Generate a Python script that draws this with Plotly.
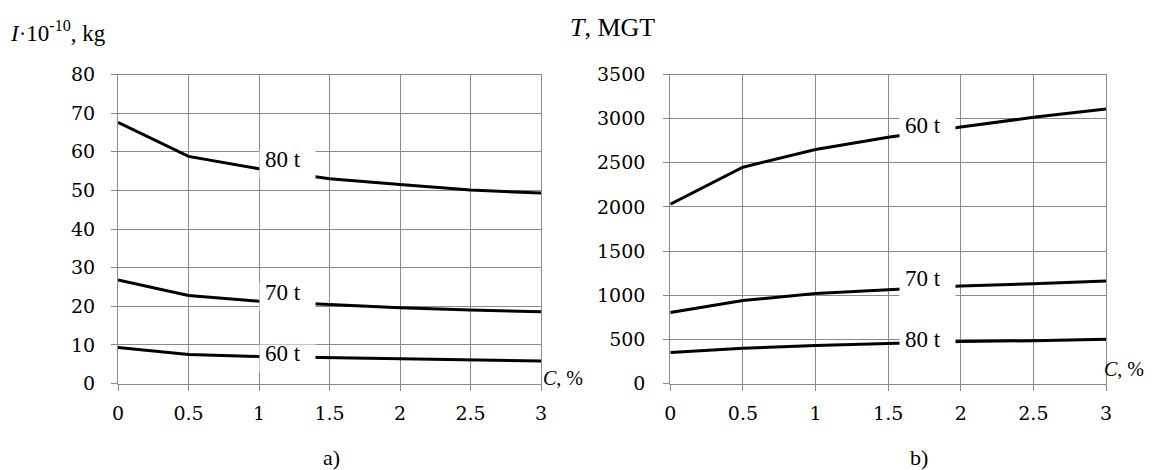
import plotly.graph_objects as go

# ---- data ----
C = [0, 0.5, 1, 1.5, 2, 2.5, 3]

# panel a) I*10^-10, kg
I_80t = [67.6, 58.8, 55.6, 53.0, 51.5, 50.1, 49.3]
I_70t = [26.8, 22.8, 21.3, 20.4, 19.6, 19.0, 18.6]
I_60t = [9.3, 7.5, 7.0, 6.7, 6.3, 6.0, 5.8]

# panel b) T, MGT
T_60t = [2030, 2450, 2650, 2790, 2905, 3015, 3110]
T_70t = [805, 940, 1020, 1060, 1105, 1130, 1160]
T_80t = [350, 400, 430, 450, 475, 485, 500]

x_ticks = [0, 0.5, 1, 1.5, 2, 2.5, 3]
x_ticktext = ["0", "0.5", "1", "1.5", "2", "2.5", "3"]
ya_ticks = [0, 10, 20, 30, 40, 50, 60, 70, 80]
yb_ticks = [0, 500, 1000, 1500, 2000, 2500, 3000, 3500]

# curve labels: (text, left edge x, text centre y)
labels_a = [("80 t", 1.0, 57.9), ("70 t", 1.0, 23.6), ("60 t", 1.0, 7.7)]
labels_b = [("60 t", 1.575, 2928), ("70 t", 1.575, 1184), ("80 t", 1.575, 504)]

SERIF = "Liberation Serif"
TICKFONT = "DejaVu Serif"
GRID = "#8a8a8a"

W, H = 1156, 470


def px(x):
    return x / W


def py(y):
    return 1 - y / H


fig = go.Figure()
for ys in (I_80t, I_70t, I_60t):
    fig.add_trace(go.Scatter(x=C, y=ys, mode="lines", line=dict(color="black", width=3),
                             xaxis="x", yaxis="y", showlegend=False, hoverinfo="skip"))
for ys in (T_60t, T_70t, T_80t):
    fig.add_trace(go.Scatter(x=C, y=ys, mode="lines", line=dict(color="black", width=3),
                             xaxis="x2", yaxis="y2", showlegend=False, hoverinfo="skip"))

axis_common = dict(showgrid=True, gridcolor=GRID, gridwidth=1.2, showline=True, linecolor=GRID,
                   linewidth=1.2, mirror=True, ticks="outside", ticklen=6, tickcolor=GRID,
                   tickwidth=1.2, zeroline=False, automargin=False,
                   tickfont=dict(family=TICKFONT, size=19, color="black"))

fig.update_layout(
    template="none",
    width=W, height=H,
    margin=dict(l=0, r=0, t=0, b=0, pad=0, autoexpand=False),
    showlegend=False,
    paper_bgcolor="white", plot_bgcolor="white",
    font=dict(family=SERIF, color="black"),
    xaxis=dict(domain=[px(118), px(541)], range=[0, 3], tickvals=x_ticks, ticktext=x_ticktext,
               anchor="y", ticklabelstandoff=7, **axis_common),
    yaxis=dict(domain=[py(383.5), py(74.5)], range=[0, 80], tickvals=ya_ticks, anchor="x",
               ticklabelstandoff=12, **axis_common),
    xaxis2=dict(domain=[px(670.3), px(1106)], range=[0, 3], tickvals=x_ticks, ticktext=x_ticktext,
                anchor="y2", ticklabelstandoff=7, **axis_common),
    yaxis2=dict(domain=[py(383.5), py(74.5)], range=[0, 3500], tickvals=yb_ticks, anchor="x2",
                ticklabelstandoff=14, **axis_common),
)


def add_label(text, x, y, xref, yref):
    # white box that interrupts the curve and grid behind the label
    fig.add_annotation(text="\u00a0", x=x, y=y, xref=xref, yref=yref, xanchor="left",
                       yanchor="middle", yshift=-4.5, showarrow=False, width=55, height=27,
                       bgcolor="white", borderpad=0, font=dict(family=SERIF, size=8))
    fig.add_annotation(text=text, x=x, y=y, xref=xref, yref=yref, xanchor="left",
                       yanchor="middle", xshift=4, showarrow=False,
                       font=dict(family=SERIF, size=23, color="black"))


for t, x, y in labels_a:
    add_label(t, x, y, "x", "y")
for t, x, y in labels_b:
    add_label(t, x, y, "x2", "y2")


def paper_text(text, x, y, size, xanchor="left"):
    fig.add_annotation(text=text, x=px(x), y=py(y), xref="paper", yref="paper",
                       xanchor=xanchor, yanchor="middle", showarrow=False,
                       font=dict(family=SERIF, size=size, color="black"))


paper_text("<i>I</i>·10<sup>-10</sup>, kg", 8, 31, 23)
paper_text("<i>T</i>, MGT", 568, 28, 26)
paper_text("<i>C</i>, %", 541, 378, 20)
paper_text("<i>C</i>, %", 1102, 369, 20)
paper_text("a)", 331, 457, 22, "center")
paper_text("b)", 919, 457, 22, "center")

fig.write_html("out.html", config={"displayModeBar": False},
               post_script="document.body.style.margin='0';document.body.style.overflow='hidden';")
